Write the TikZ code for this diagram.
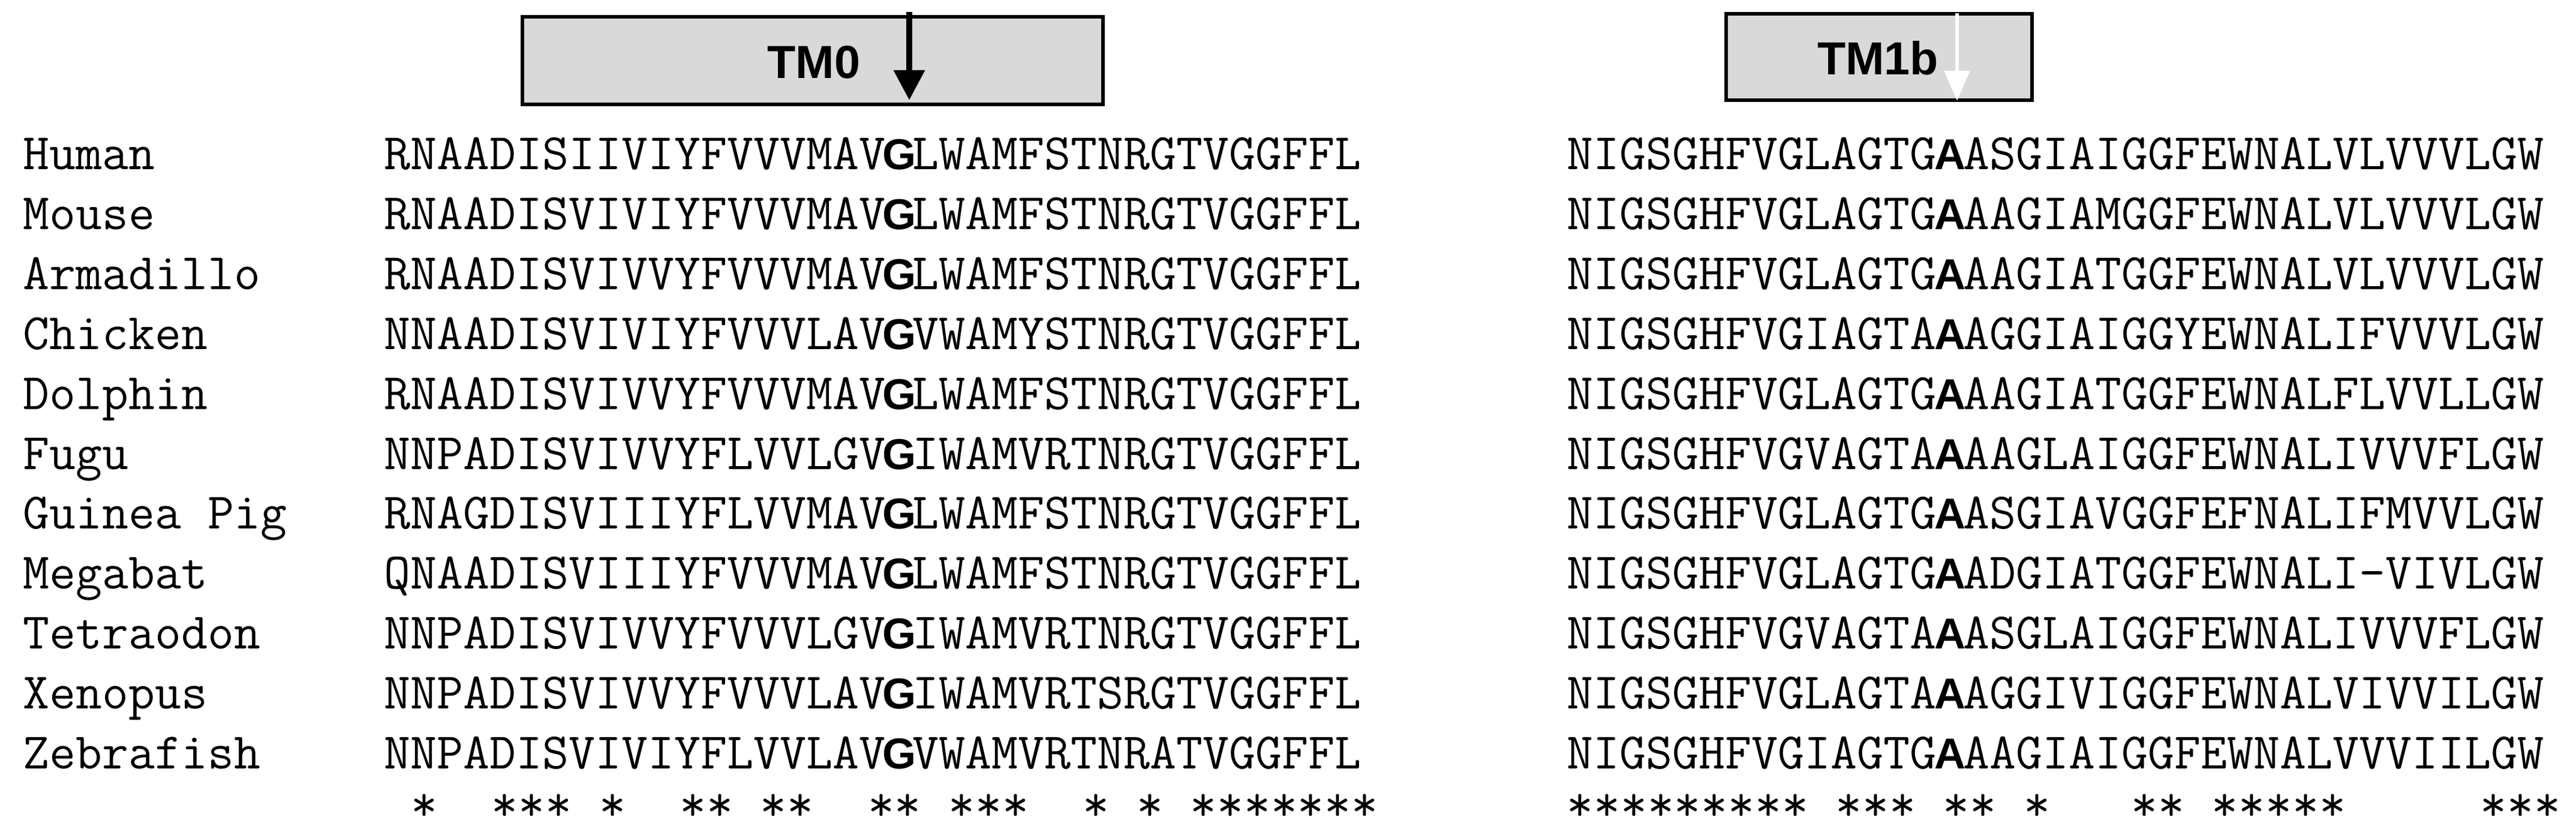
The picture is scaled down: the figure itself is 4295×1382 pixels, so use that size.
\documentclass[tikz,border=0pt]{standalone}
\usepackage{fontspec}
\newfontfamily\arialb{Liberation Sans}
\newcommand\bl[1]{\makebox[0.525em]{\fontsize{20.5}{20}\arialb\bfseries #1}}
\usetikzlibrary{arrows.meta}
\begin{document}
\begin{tikzpicture}[x=0.01cm,y=-0.01cm,
  seq/.style={anchor=base west,inner sep=0pt,font=\fontsize{24.3}{24}\ttfamily},
  tmbox/.style={draw=black,line width=0.06cm,fill=black!15,inner sep=0pt},
  tmlab/.style={font=\fontsize{22}{22}\arialb\bfseries,inner sep=0pt}]
\useasboundingbox (0,0) rectangle (4295,1382);
\node[tmbox,minimum width=9.68cm,minimum height=1.46cm] (b0) at (1355,101) {};
\node[tmlab] (l0) at (1357,104) {TM0};
\node[tmbox,minimum width=5.1cm,minimum height=1.44cm] (b1) at (3133,95) {};
\node[tmlab] (l1) at (3131,97) {TM1b};
\coordinate (a0s) at (1516,20); \coordinate (a0e) at (1516,167);
\draw[line width=0.1cm,-{Triangle[width=0.5cm,length=0.5cm]}] (a0s) -- (a0e);
\coordinate (a1s) at (3263,22); \coordinate (a1e) at (3263,168);
\draw[white,line width=0.06cm,-{Triangle[width=0.42cm,length=0.5cm]}] (a1s) -- (a1e);
\foreach \i/\n/\l/\r in {
0/Human/RNAADISIIVIYFVVVMAV\bl{G}LWAMFSTNRGTVGGFFL/NIGSGHFVGLAGTG\bl{A}ASGIAIGGFEWNALVLVVVLGW,
1/Mouse/RNAADISVIVIYFVVVMAV\bl{G}LWAMFSTNRGTVGGFFL/NIGSGHFVGLAGTG\bl{A}AAGIAMGGFEWNALVLVVVLGW,
2/Armadillo/RNAADISVIVVYFVVVMAV\bl{G}LWAMFSTNRGTVGGFFL/NIGSGHFVGLAGTG\bl{A}AAGIATGGFEWNALVLVVVLGW,
3/Chicken/NNAADISVIVIYFVVVLAV\bl{G}VWAMYSTNRGTVGGFFL/NIGSGHFVGIAGTA\bl{A}AGGIAIGGYEWNALIFVVVLGW,
4/Dolphin/RNAADISVIVVYFVVVMAV\bl{G}LWAMFSTNRGTVGGFFL/NIGSGHFVGLAGTG\bl{A}AAGIATGGFEWNALFLVVLLGW,
5/Fugu/NNPADISVIVVYFLVVLGV\bl{G}IWAMVRTNRGTVGGFFL/NIGSGHFVGVAGTA\bl{A}AAGLAIGGFEWNALIVVVFLGW,
6/Guinea~Pig/RNAGDISVIIIYFLVVMAV\bl{G}LWAMFSTNRGTVGGFFL/NIGSGHFVGLAGTG\bl{A}ASGIAVGGFEFNALIFMVVLGW,
7/Megabat/QNAADISVIIIYFVVVMAV\bl{G}LWAMFSTNRGTVGGFFL/NIGSGHFVGLAGTG\bl{A}ADGIATGGFEWNALI-VIVLGW,
8/Tetraodon/NNPADISVIVVYFVVVLGV\bl{G}IWAMVRTNRGTVGGFFL/NIGSGHFVGVAGTA\bl{A}ASGLAIGGFEWNALIVVVFLGW,
9/Xenopus/NNPADISVIVVYFVVVLAV\bl{G}IWAMVRTSRGTVGGFFL/NIGSGHFVGLAGTA\bl{A}AGGIVIGGFEWNALVIVVILGW,
10/Zebrafish/NNPADISVIVIYFLVVLAV\bl{G}VWAMVRTNRATVGGFFL/NIGSGHFVGIAGTG\bl{A}AAGIAIGGFEWNALVVVIILGW}{
  \node[seq] (n\i) at (38,{283+99.8*\i}) {\n};
  \node[seq] (s\i) at (640,{283+99.8*\i}) {\l};
  \node[seq] (t\i) at (2612,{283+99.8*\i}) {\r};
}
\foreach \c in {1,4,5,6,8,11,12,14,15,18,19,21,22,23,26,28,30,31,32,33,34,35,36}
  \node[seq] (cl\c) at ({640+44.8*\c},1368) {*};
\foreach \c in {0,1,2,3,4,5,6,7,8,10,11,12,14,15,17,21,22,24,25,26,27,28,34,35,36}
  \node[seq] (cr\c) at ({2612+44.8*\c},1368) {*};
\end{tikzpicture}
\end{document}
